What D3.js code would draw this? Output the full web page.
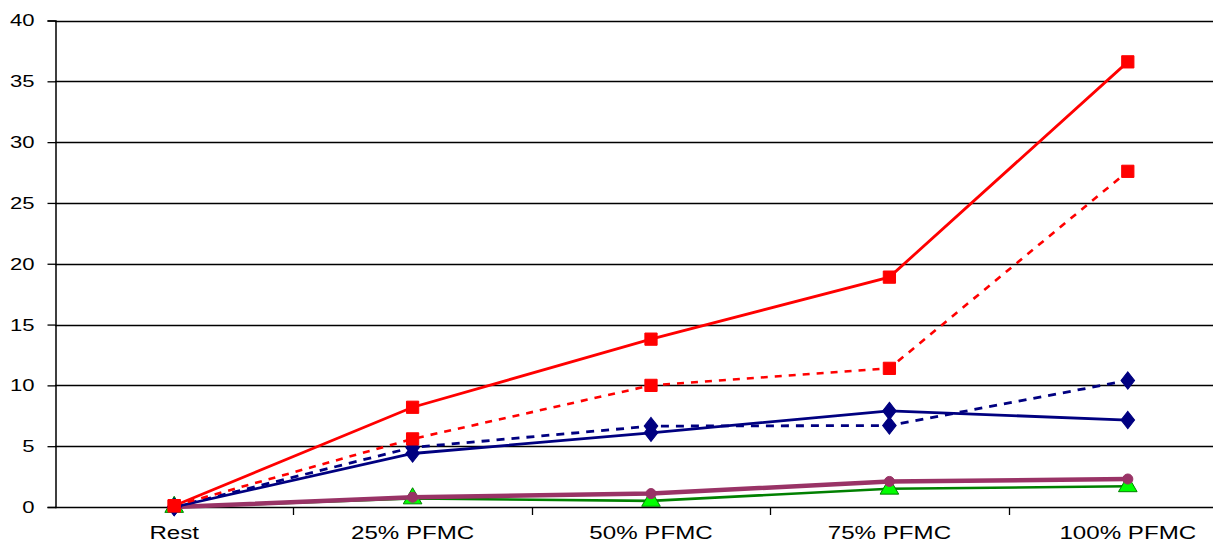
<!DOCTYPE html>
<html><head><meta charset="utf-8">
<script src="https://cdn.jsdelivr.net/npm/d3@7"></script>
<style>body{margin:0;background:#fff;} text{font-family:"Liberation Sans",Arial,sans-serif;}</style>
</head><body><svg id="c" width="1213" height="543"></svg>
<script>
const categories = ["Rest","25% PFMC","50% PFMC","75% PFMC","100% PFMC"];
const yTicks = [0,5,10,15,20,25,30,35,40];
const redSolid   = [0.1, 8.2, 13.8, 18.9, 36.6];
const redDashed  = [0.1, 5.6, 10.0, 11.4, 27.6];
const navySolid  = [0.0, 4.4, 6.1, 7.9, 7.15];
const navyDashed = [0.0, 4.9, 6.65, 6.7, 10.4];
const purple     = [0.0, 0.8, 1.1, 2.1, 2.3];
const green      = [0.0, 0.7, 0.5, 1.5, 1.7];

const series = [
  {v: green, stroke:"#008000", w:2.6, dash:null, marker:"triangle", fill:"#00ff00", mstroke:"#008000", size:150},
  {v: purple, stroke:"#993366", w:4.5, dash:null, marker:"circle", fill:"#993366", mstroke:"#993366", size:80},
  {v: navyDashed, stroke:"#000080", w:2.8, dash:"8,7", marker:"diamond", fill:"#000080", mstroke:"#000080", size:120},
  {v: navySolid, stroke:"#000080", w:2.8, dash:null, marker:"diamond", fill:"#000080", mstroke:"#000080", size:120},
  {v: redDashed, stroke:"#ff0000", w:2.6, dash:"7,7", marker:"square", fill:"#ff0000", mstroke:"#ff0000", size:150},
  {v: redSolid, stroke:"#ff0000", w:2.8, dash:null, marker:"square", fill:"#ff0000", mstroke:"#ff0000", size:150}
];

const svg = d3.select("#c");
const x = d3.scaleBand().domain(categories).range([55, 1247]);
const y = d3.scaleLinear().domain([0,40]).range([507, 20.5]);

// gridlines
svg.append("g").selectAll("line").data(yTicks.filter(d=>d>0)).join("line")
  .attr("x1",55).attr("x2",1213).attr("y1",d=>Math.round(y(d))+0.5).attr("y2",d=>Math.round(y(d))+0.5)
  .attr("stroke","#000").attr("stroke-width",1.3);

// y axis
const ySX = 1.3;
const yAxis = d3.axisLeft(y).tickValues(yTicks).tickSize(8).tickPadding(13).tickFormat(d3.format("d"));
const gy = svg.append("g").attr("transform","translate(55.5,0)").call(yAxis);
gy.select(".domain").attr("stroke","#000").attr("stroke-width",1.5);
gy.selectAll(".tick line").attr("stroke","#000").attr("stroke-width",1.3);
gy.selectAll(".tick text").attr("font-size","17px").attr("fill","#000")
  .attr("font-family","Liberation Sans, Arial, sans-serif")
  .attr("x", -21/ySX).attr("transform",`scale(${ySX},1)`);

// x axis
const xSX = 1.27;
const xAxis = d3.axisBottom(x).tickSize(0).tickPadding(18);
const gx = svg.append("g").attr("transform","translate(0,507.5)").call(xAxis);
gx.select(".domain").remove();
gx.selectAll(".tick text").attr("font-size","19px").attr("fill","#000")
  .attr("font-family","Liberation Sans, Arial, sans-serif")
  .attr("transform",`scale(${xSX},1)`);
svg.append("line").attr("x1",55).attr("x2",1213).attr("y1",507.5).attr("y2",507.5).attr("stroke","#000").attr("stroke-width",1.5);
// category separator ticks
svg.append("g").selectAll("line").data(categories.slice(1)).join("line")
  .attr("x1",d=>Math.round(x(d))+0.5).attr("x2",d=>Math.round(x(d))+0.5).attr("y1",507).attr("y2",515)
  .attr("stroke","#000").attr("stroke-width",1.3);

const cx = d => x(d) + x.bandwidth()/2;
const line = d3.line().x((d,i)=>cx(categories[i])).y(d=>y(d));
const symbols = {triangle:d3.symbolTriangle, circle:d3.symbolCircle, diamond:d3.symbolDiamond, square:d3.symbolSquare};

series.forEach(s=>{
  svg.append("path").datum(s.v).attr("d",line).attr("fill","none")
    .attr("stroke",s.stroke).attr("stroke-width",s.w).attr("stroke-dasharray",s.dash);
  const sym = d3.symbol().type(symbols[s.marker]).size(s.size);
  svg.append("g").selectAll("path").data(s.v).join("path")
    .attr("d",sym)
    .attr("transform",(d,i)=>{
      const sc = s.marker==="diamond" ? " scale(1.15,0.85)" : "";
      return `translate(${cx(categories[i])},${y(d)})${sc}`;
    })
    .attr("fill",s.fill).attr("stroke",s.mstroke).attr("stroke-width",1);
});
</script></body></html>
